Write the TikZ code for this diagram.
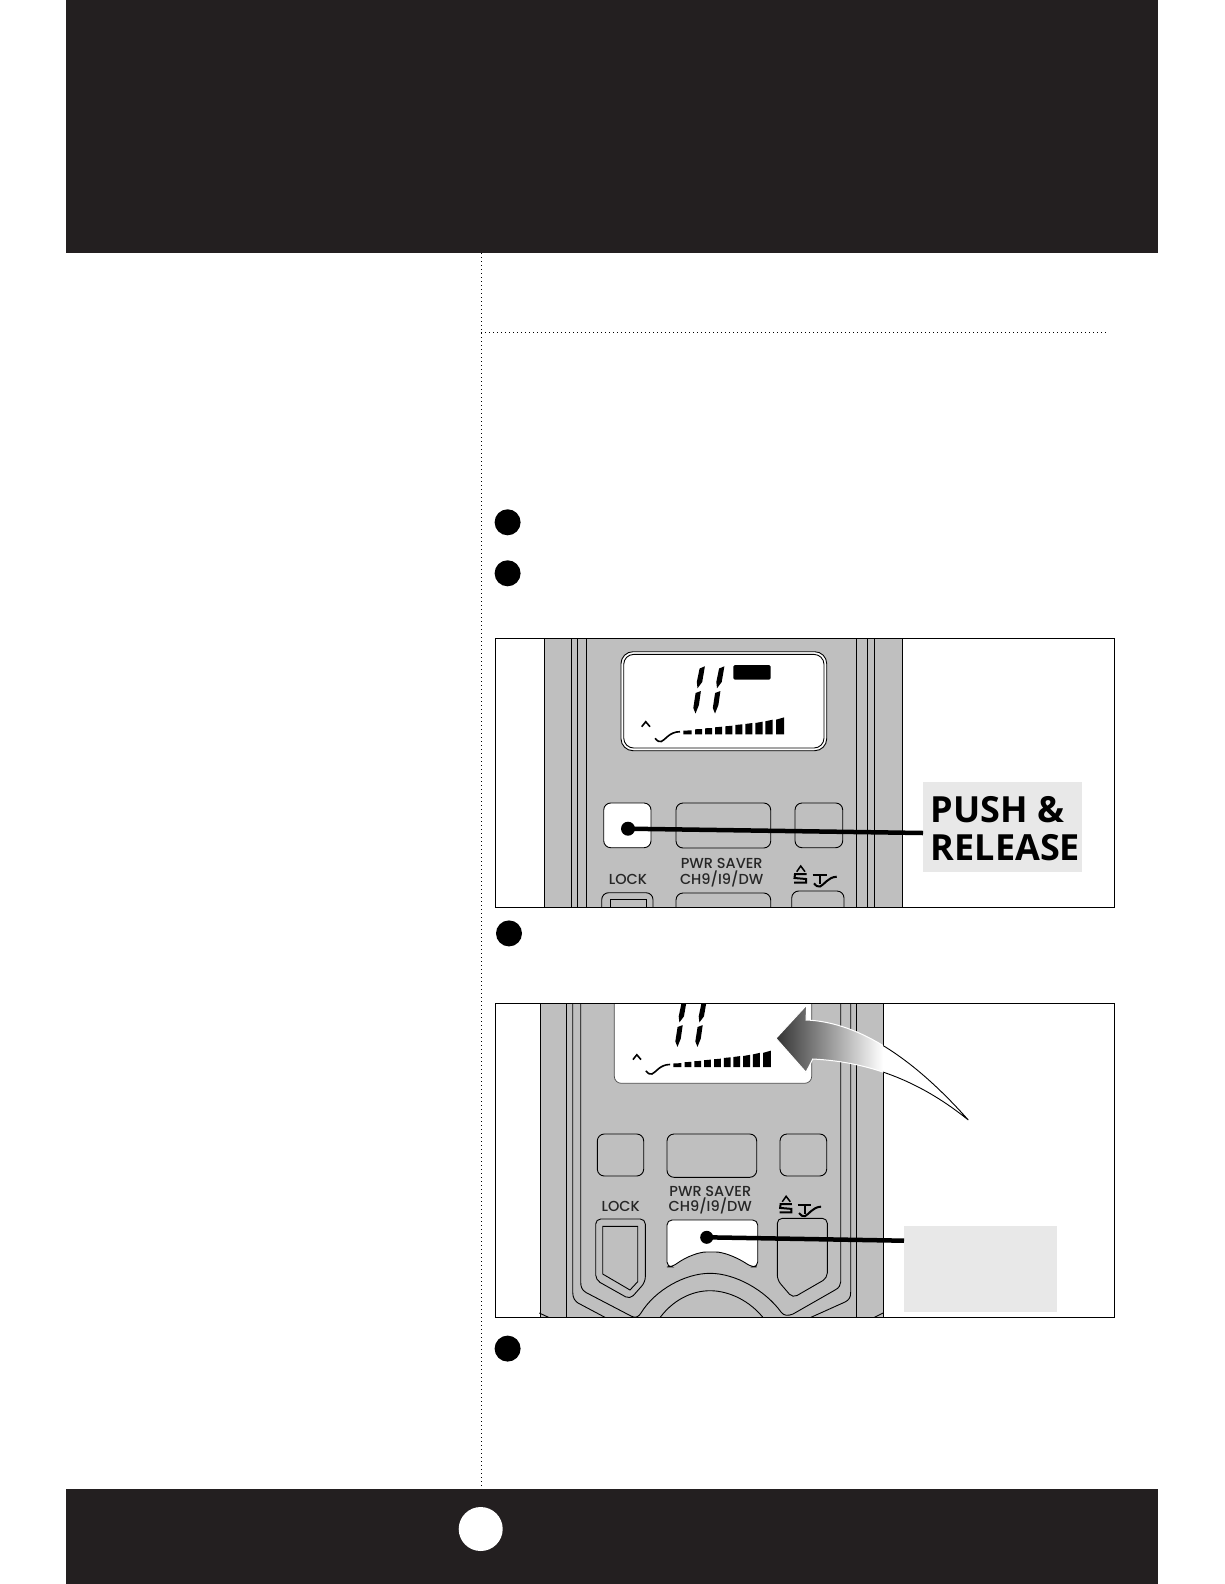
\documentclass[tikz,border=0pt]{standalone}
\usepackage{fontspec}
\usepackage{xcolor}
\newfontfamily\labelfont{Poppins Medium}
\newfontfamily\pushfont{Open Sans}
\definecolor{bandblack}{HTML}{231F20}
\definecolor{bodygrey}{HTML}{BFBFBF}
\definecolor{boxgrey}{HTML}{E8E8E8}
\newcommand{\arrowpath}{(776,1038.3) -- (806.7,1005) -- (806,1020)
  .. controls (860,1022) and (915,1060) .. (968.3,1120)
  .. controls (925,1085) and (875,1062) .. (812.7,1059)
  -- (806,1072.3) -- cycle}
\tikzset{
  bodyline/.style={line width=.9pt,black},
  btn/.style={draw=black,line width=.9pt,rounded corners=7pt},
  keytext/.style={font=\labelfont\fontsize{14.5}{16}\selectfont,text=black!85,inner sep=0pt},
  pressdot/.style={circle,fill=black,inner sep=0pt,minimum size=14pt},
  pointer/.style={line width=4.5pt,black},
  stepdot/.style={circle,fill=black,inner sep=0pt,minimum size=26pt},
  pushbox/.style={fill=boxgrey,inner sep=0pt},
  lcdone/.pic={
    \fill (5.6,-44.8) -- (10.9,-47) -- (8.2,-31.3) -- (3.5,-25) -- (2.8,-31.3) -- cycle;
    \fill (1.6,-20.3) -- (6.9,-22.3) -- (4.9,-8.3) -- (1.5,.2) -- (-.7,-5.3) -- cycle;
  },
  lcdbars/.pic={
    \foreach \bx/\bw/\bh/\bk in {0/8.3/3.3/3.7,11.7/7/4.7/5,21.7/7/5.7/6,31.7/7/6.7/7.3,42/7/7.7/8.3,
        52/7/9/9.7,62/7/10/11,72/7.3/11/12.3,82/7.3/12.7/14.3,92.7/8/14.3/16.6}{
      \fill (\bx,.3) -- (\bx,-\bh) -- (\bx+\bw,-\bk) -- (\bx+\bw,.3) -- cycle;
    }
    \draw[line width=1.6pt] (-41.6,-7.3) -- (-37.6,-12.3) -- (-33.3,-7.3);
    \draw[line width=1.6pt] (-28.3,4.3) .. controls (-26,7) and (-24,8.3) .. (-22,7.5)
      .. controls (-18,6) and (-14,-2.3) .. (-3.3,-2.3);
  },
  stsign/.pic={
    \draw[line width=1.5pt] (-18.3,-3.3) -- (-14.3,-9) -- (-10,-3.3);
    \draw[line width=2pt] (-8.3,-.8) -- (-20,-.8) -- (-20.5,3) -- (-9,4) -- (-9,7.5) -- (-21,7.5);
    \draw[line width=2.3pt] (-2.3,-.3) -- (11.7,-.3) (5,-.3) -- (5,9);
    \draw[line width=2pt] (-1,8.3) .. controls (1,11) and (3,12) .. (5,11.5)
      .. controls (9,10) and (13,2) .. (21.7,1.7);
  }
}
\begin{document}
\begin{tikzpicture}[x=1pt,y=-1pt]
  \useasboundingbox (0,0) rectangle (1224,1584);
  % bands
  \fill[bandblack] (66,0) rectangle (1158,252.5);
  \fill[bandblack] (66,1489) rectangle (1158,1584);
  \node[circle,fill=white,inner sep=0pt,minimum size=44pt] (pagedot) at (480.7,1529) {};
  % rules
  \draw[line width=.9pt,dash pattern=on .9pt off 3.1pt] (481.4,253) -- (481.4,1489);
  \draw[line width=.9pt,dash pattern=on .9pt off 3.1pt] (481.4,332) -- (1108,332);
  % step dots
  \node[stepdot] (stepone) at (507.6,522.3) {};
  \node[stepdot] (steptwo) at (507.6,573.3) {};
  \node[stepdot] (stepthree) at (509,933.4) {};
  \node[stepdot] (stepfour) at (507.6,1348.6) {};

  % first panel
  \begin{scope}
    \clip (495.3,638.3) rectangle (1114.5,907);
    \fill[bodygrey] (544,630) rectangle (902.7,910);
    \draw[bodyline] (544,630) -- (544,910) (902.7,630) -- (902.7,910);
    \foreach \lx in {571.7,577.3,586.7,856.7,867.7,874}{
      \draw[bodyline] (\lx,630) -- (\lx,910);
    }
    \draw[fill=white,line width=.9pt,rounded corners=12pt] (621,651.7) rectangle (826.7,750.7);
    \draw[line width=.9pt,rounded corners=10pt] (623.7,654.4) rectangle (824,748);
    \pic at (694,713.3) {lcdone};
    \pic at (713.5,713.3) {lcdone};
    \fill[rounded corners=1.5pt] (733.3,665) rectangle (770.7,679.7);
    \pic at (683.3,734) {lcdbars};
    \draw[btn,fill=white] (603.7,803) rectangle (651,847.7);
    \draw[btn] (676,803) rectangle (770.7,848);
    \draw[btn] (795,803) rectangle (842.7,847.7);
    \draw[btn] (601.7,892.7) rectangle (653,920);
    \draw[bodyline] (610,920) -- (610,899) -- (646,899) -- (646,920);
    \draw[btn] (676,893) rectangle (770.7,920);
    \draw[btn] (791.7,891) rectangle (844,920);
    \node[keytext] (saverone) at (721.7,863) {PWR SAVER};
    \node[keytext] (chanone) at (721.7,879) {CH9/I9/DW};
    \node[keytext] (lockone) at (628,879) {LOCK};
    \pic at (815,875) {stsign};
  \end{scope}
  \draw[line width=.9pt] (495.3,638.3) rectangle (1114.5,907);
  \node[pushbox,minimum width=159pt,minimum height=90pt] (pushbox) at (1002.5,827) {};
  \node[align=left,inner sep=0pt,font=\pushfont\bfseries\fontsize{36}{38.3}\selectfont] (pushlabel) at (1005.5,828.5) {PUSH \&\\RELEASE};
  \node[pressdot] (lockdot) at (628,828.7) {};
  \coordinate (pushend) at (923,833);
  \draw[pointer] (lockdot.center) -- (pushend);

  % second panel
  \begin{scope}
    \clip (495.3,1003.3) rectangle (1114.5,1317);
    \fill[bodygrey] (540,1000) rectangle (883.7,1320);
    \draw[bodyline] (540,1000) -- (540,1320) (883.7,1000) -- (883.7,1320);
    \foreach \lx in {566.7,856}{
      \draw[bodyline] (\lx,1000) -- (\lx,1320);
    }
    \draw[bodyline] (539.3,1313) -- (550,1318) (883,1313) -- (873,1318);
    \draw[bodyline] (572.7,1000) -- (572.7,1292) .. controls (572.7,1298) and (575,1301) .. (578,1303) -- (610,1320);
    \draw[bodyline] (850.7,1000) -- (850.7,1292) .. controls (850.7,1298) and (848.7,1300) .. (845,1302) -- (805,1320);
    % inner outline runs into the dial arc
    \draw[bodyline] (580.7,1000) -- (580.7,1282) .. controls (580.7,1287) and (582,1290) .. (586,1292.5) -- (631,1316)
      .. controls (636,1319) and (639,1316) .. (641,1313)
      .. controls (655,1290) and (685,1273.3) .. (710,1273.3)
      .. controls (735,1273.3) and (765,1290) .. (781,1312)
      .. controls (784,1316) and (788,1316) .. (793,1314) -- (835,1290)
      .. controls (839,1288) and (840.7,1285) .. (840.7,1282) -- (840.7,1000);
    \draw[bodyline] (658.3,1320) .. controls (672,1300) and (692,1290.7) .. (710,1290.7)
      .. controls (728,1290.7) and (750,1300) .. (765,1320);
    \draw[fill=white,line width=.7pt,draw=black!70,rounded corners=7pt] (614.3,990) rectangle (811.7,1083.3);
    \pic[scale=.97] at (676,1046.7) {lcdone};
    \pic[scale=.97] at (696,1046.7) {lcdone};
    \pic[scale=.97] at (673.3,1066.7) {lcdbars};
    \draw[btn] (597.3,1134) rectangle (643.7,1176);
    \draw[btn] (667,1134) rectangle (756.7,1177.3);
    \draw[btn] (780,1134) rectangle (826.7,1176);
    \draw[bodyline,rounded corners=5pt] (595.7,1219) -- (645.3,1219) -- (645.3,1282) -- (630,1299.3) -- (595.7,1280) -- cycle;
    \draw[bodyline] (602.7,1226.3) -- (637.7,1226.3) -- (637.7,1281.7) -- (630,1290) -- (602.7,1274) -- cycle;
    \draw[bodyline,rounded corners=5pt] (777.3,1218.3) -- (827.3,1218.3) -- (827.3,1278) -- (792.7,1298) -- (777.3,1280) -- cycle;
    \draw[fill=white,line width=.9pt,rounded corners=5pt] (667,1220) -- (757.7,1220) -- (757.7,1267) -- (751.7,1267)
      .. controls (735,1256) and (722,1252) .. (711,1252)
      .. controls (700,1252) and (687,1256) .. (672,1267) -- (667,1267) -- cycle;
    \node[keytext] (savertwo) at (710.3,1191) {PWR SAVER};
    \node[keytext] (chantwo) at (710.3,1206.3) {CH9/I9/DW};
    \node[keytext] (locktwo) at (620.7,1206) {LOCK};
    \pic[scale=.97] at (800,1205) {stsign};
    % curved arrow
    \fill[white] \arrowpath;
    \begin{scope}
      \clip \arrowpath;
      \shade[left color=black!80,right color=white] (776,1000) rectangle (883,1125);
    \end{scope}
    \draw[white,line width=1pt] \arrowpath;
    \begin{scope}
      \clip (883,1000) rectangle (1000,1130);
      \draw[line width=.9pt] \arrowpath;
    \end{scope}
  \end{scope}
  \draw[line width=.9pt] (495.3,1003.3) rectangle (1114.5,1317);
  \node[pushbox,minimum width=153pt,minimum height=86pt] (saverlabel) at (980.5,1269) {};
  \node[pressdot,minimum size=13pt] (saverdot) at (706.7,1237.3) {};
  \coordinate (saverend) at (904,1240.7);
  \draw[pointer] (saverdot.center) -- (saverend);
\end{tikzpicture}
\end{document}
